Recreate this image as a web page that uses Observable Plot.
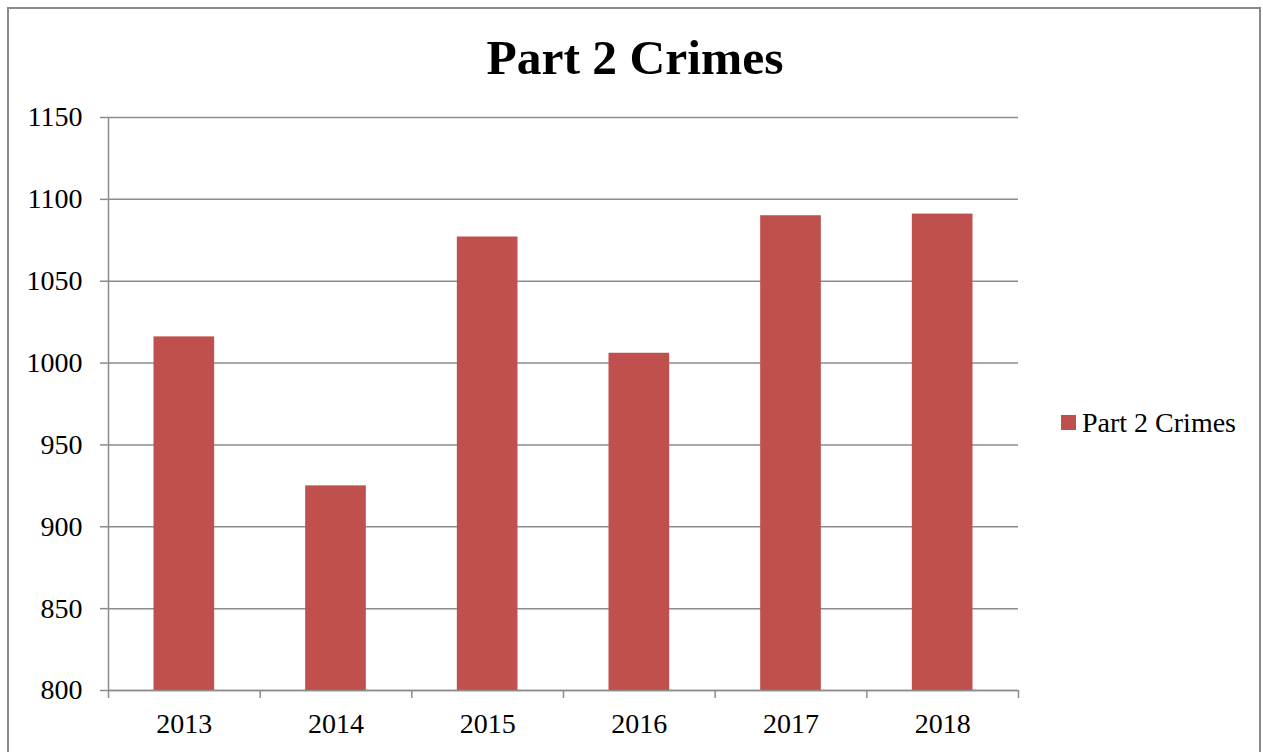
<!DOCTYPE html>
<html><head><meta charset="utf-8">
<script src="https://cdn.jsdelivr.net/npm/d3@7"></script>
<script src="https://cdn.jsdelivr.net/npm/@observablehq/plot@0.6"></script>
<style>
html,body{margin:0;padding:0;background:#fff;overflow:hidden;}
#wrap{position:relative;width:1263px;height:752px;font-family:'Liberation Serif',serif;color:#000;overflow:hidden;}
#frame{position:absolute;left:7px;top:7px;width:1254px;height:800px;border:2px solid #8a8a8a;box-sizing:border-box;}
#title{position:absolute;left:0;top:33px;width:1270px;text-align:center;font-size:49.5px;line-height:49px;font-weight:bold;white-space:nowrap;}
#chart{position:absolute;left:0;top:0;}
#legend{position:absolute;left:1061px;top:409px;font-size:28px;line-height:28px;white-space:nowrap;}
#legend .sw{position:absolute;left:0;top:6px;width:15px;height:15px;}
#legend .lt{position:absolute;left:21px;top:0;}
</style></head>
<body>
<div id="wrap">
  <div id="frame"></div>
  <div id="title"></div>
  <div id="chart"></div>
  <div id="legend"><span class="sw"></span><span class="lt"></span></div>
</div>
<script>
const titleText = "Part 2 Crimes";
const seriesName = "Part 2 Crimes";
const years = ["2013", "2014", "2015", "2016", "2017", "2018"];
const crimes = [1016, 925, 1077, 1006, 1090, 1091];
const yTicks = [800, 850, 900, 950, 1000, 1050, 1100, 1150];
const barColor = "#C0504D";
const lineColor = "#8c8c8c";

const data = years.map((y, i) => ({year: y, value: crimes[i]}));

const W = 1263, H = 752, mL = 108, mR = 245, mT = 117, mB = 62;
const step = (W - mL - mR) / years.length;

document.getElementById("title").textContent = titleText;
document.querySelector("#legend .lt").textContent = seriesName;
document.querySelector("#legend .sw").style.background = barColor;

const chart = Plot.plot({
  width: W, height: H,
  marginLeft: mL, marginRight: mR, marginTop: mT, marginBottom: mB,
  style: {background: "transparent", fontFamily: "'Liberation Serif', serif", fontSize: "28px", color: "#000", overflow: "visible"},
  x: {domain: years, paddingInner: 0.6, paddingOuter: 0.3, round: false, label: null},
  y: {domain: [yTicks[0], yTicks[yTicks.length - 1]], label: null},
  marks: [
    Plot.gridY(yTicks, {stroke: lineColor, strokeOpacity: 1, strokeWidth: 1.5}),
    Plot.barY(data, {x: "year", y1: yTicks[0], y2: "value", fill: barColor}),
    Plot.axisY(yTicks, {tickSize: 8, tickPadding: 18, tickFormat: (d) => String(d), stroke: lineColor, strokeWidth: 1.5, fill: "#000", label: null}),
    Plot.axisX({tickSize: 0, tickPadding: 23, fill: "#000", label: null}),
    // y axis line
    Plot.ruleX([years[0]], {dx: -step / 2, insetBottom: -8, stroke: lineColor, strokeWidth: 1.5}),
    // x baseline
    Plot.ruleY([yTicks[0]], {stroke: lineColor, strokeWidth: 1.5}),
    // category boundary ticks
    Plot.ruleX(years, {dx: step / 2, y1: yTicks[0], y2: yTicks[0], insetBottom: -8, stroke: lineColor, strokeWidth: 1.5})
  ]
});
document.getElementById("chart").appendChild(chart);
</script>
</body></html>
